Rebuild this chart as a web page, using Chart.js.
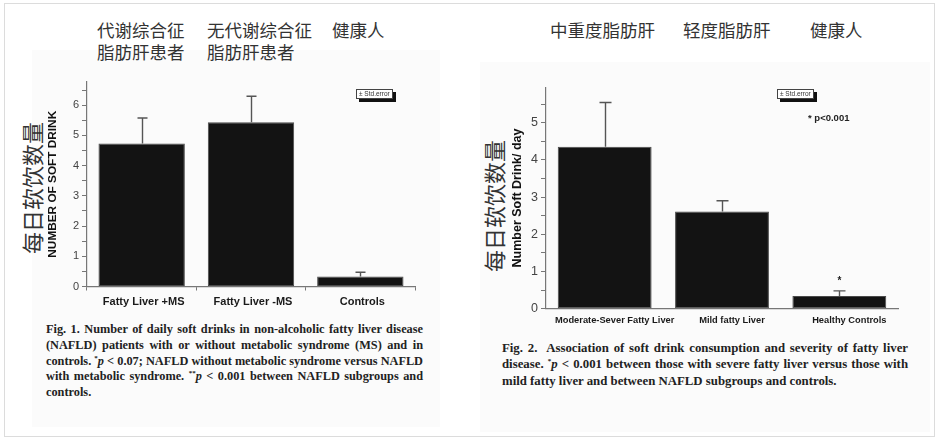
<!DOCTYPE html>
<html><head><meta charset="utf-8">
<script src="https://cdn.jsdelivr.net/npm/chart.js@4"></script>
<style>
html,body{margin:0;padding:0;background:#fff;}
body{width:939px;height:441px;position:relative;overflow:hidden;font-family:"Liberation Sans",Arial,sans-serif;}
.frame{position:absolute;left:4px;top:3px;width:929px;height:432px;border:1px solid #dcdcdc;}
.paper{position:absolute;background:#fbfbfb;}
.cjk{position:absolute;font-family:"Noto Sans CJK SC",sans-serif;color:#333;white-space:nowrap;}
.hdr{font-size:17.5px;line-height:22px;}
.rot{font-size:22px;line-height:1;transform:translate(-50%,-50%) rotate(-90deg);}
canvas{position:absolute;}
.se{position:absolute;background:#fff;border:1px solid #444;box-shadow:3px 3px 0 #111;font-size:6.5px;line-height:8px;color:#333;padding:0 2px;white-space:nowrap;}
.note{position:absolute;font-weight:bold;font-size:9.5px;color:#222;white-space:nowrap;}
.cap{position:absolute;font-family:"Liberation Serif","Times New Roman",serif;font-weight:bold;color:#222;}
.cap div{text-align:justify;text-align-last:justify;white-space:nowrap;}
.cap div.last{text-align-last:left;}
.sup{font-size:7px;line-height:0;position:relative;top:-5px;}
</style></head>
<body>
<div class="frame"></div>
<div class="paper" style="left:32px;top:50px;width:408px;height:377px;"></div>
<div class="paper" style="left:480px;top:62px;width:450px;height:370px;"></div>

<div class="cjk hdr" style="left:97px;top:19px;">代谢综合征<br>脂肪肝患者</div>
<div class="cjk hdr" style="left:207px;top:19px;">无代谢综合征<br>脂肪肝患者</div>
<div class="cjk hdr" style="left:332px;top:19px;">健康人</div>

<div class="cjk hdr" style="left:550px;top:19px;">中重度脂肪肝</div>
<div class="cjk hdr" style="left:683px;top:19px;">轻度脂肪肝</div>
<div class="cjk hdr" style="left:810px;top:19px;">健康人</div>

<div class="cjk rot" style="left:31px;top:188px;">每日软饮数量</div>
<div class="cjk rot" style="left:493px;top:206px;">每日软饮数量</div>

<canvas id="c1" width="470" height="260" style="left:0;top:60px;"></canvas>
<canvas id="c2" width="469" height="280" style="left:470px;top:60px;"></canvas>

<div class="se" style="left:356px;top:89px;">± Std.error</div>
<div class="se" style="left:777px;top:89px;">± Std.error</div>
<div class="note" style="left:808px;top:112px;">* p&lt;0.001</div>

<div class="cap" style="left:46px;top:322px;width:377px;font-size:12.3px;line-height:15.8px;">
<div>Fig. 1. Number of daily soft drinks in non-alcoholic fatty liver disease</div>
<div>(NAFLD) patients with or without metabolic syndrome (MS) and in</div>
<div>controls. <span class="sup">*</span><i>p</i> &lt; 0.07; NAFLD without metabolic syndrome versus NAFLD</div>
<div>with metabolic syndrome. <span class="sup">**</span><i>p</i> &lt; 0.001 between NAFLD subgroups and</div>
<div class="last">controls.</div>
</div>

<div class="cap" style="left:502px;top:340px;width:406px;font-size:12.8px;line-height:16.3px;">
<div>Fig. 2.&nbsp; Association of soft drink consumption and severity of fatty liver</div>
<div>disease. <span class="sup">*</span><i>p</i> &lt; 0.001 between those with severe fatty liver versus those with</div>
<div class="last">mild fatty liver and between NAFLD subgroups and controls.</div>
</div>

<script>
// ---- data ----
const leftCategories = ['Fatty Liver +MS', 'Fatty Liver -MS', 'Controls'];
const leftMeans = [4.73, 5.44, 0.33];
const leftErrors = [0.85, 0.86, 0.14];
const leftMarks = ['', '', ''];
const leftAxisTitle = 'NUMBER OF SOFT DRINK';

const rightCategories = ['Moderate-Sever Fatty Liver', 'Mild fatty Liver', 'Healthy Controls'];
const rightMeans = [4.35, 2.61, 0.34];
const rightErrors = [1.19, 0.29, 0.14];
const rightMarks = ['', '', '*'];
const rightAxisTitle = 'Number Soft Drink/ day';

const FONT = '"Liberation Sans", Arial, sans-serif';

function errorPlugin(errors, marks, capW) {
  return {
    id: 'errbars',
    afterDatasetsDraw(chart) {
      const ctx = chart.ctx;
      const meta = chart.getDatasetMeta(0);
      const ys = chart.scales.y;
      const vals = chart.data.datasets[0].data;
      ctx.save();
      ctx.strokeStyle = '#555';
      ctx.lineWidth = 1.4;
      meta.data.forEach((bar, i) => {
        const x = Math.round(bar.x) + 0.5;
        const yb = ys.getPixelForValue(vals[i]);
        const yt = ys.getPixelForValue(vals[i] + errors[i]);
        ctx.beginPath();
        ctx.moveTo(x, yb);
        ctx.lineTo(x, yt);
        ctx.moveTo(x - capW / 2, yt);
        ctx.lineTo(x + capW / 2, yt);
        ctx.stroke();
        if (marks[i]) {
          ctx.fillStyle = '#222';
          ctx.font = 'bold 10px ' + FONT;
          ctx.textAlign = 'center';
          ctx.textBaseline = 'middle';
          ctx.fillText(marks[i], x, yt - 10);
        }
      });
      ctx.restore();
    }
  };
}

function makeChart(id, cfg) {
  return new Chart(document.getElementById(id), {
    type: 'bar',
    data: {
      labels: cfg.labels,
      datasets: [{
        data: cfg.values,
        backgroundColor: '#131313',
        borderColor: '#4a4a4a',
        borderWidth: 1,
        borderSkipped: false,
        categoryPercentage: 1,
        barPercentage: cfg.barPct
      }]
    },
    options: {
      responsive: false,
      animation: false,
      devicePixelRatio: 1,
      layout: { padding: { left: cfg.padL, right: cfg.padR, top: cfg.padT, bottom: 0 } },
      plugins: { legend: { display: false }, tooltip: { enabled: false } },
      scales: {
        x: {
          afterFit(s) { s.height = cfg.xH; },
          grid: cfg.xTicks
            ? { offset: true, drawOnChartArea: false, drawTicks: true, tickLength: 4, color: '#777', tickColor: '#777' }
            : { display: false, drawOnChartArea: false, drawTicks: false },
          border: { display: true, color: '#777', width: 1.2 },
          ticks: {
            color: '#1a1a1a',
            font: { family: FONT, size: cfg.xFont, weight: 'bold' },
            padding: cfg.xPad,
            labelOffset: cfg.labelOffset,
            maxRotation: 0,
            autoSkip: false
          }
        },
        y: {
          min: 0,
          max: cfg.max,
          afterFit(s) { s.width = cfg.yW; },
          grid: { drawOnChartArea: false, drawTicks: true, tickLength: 5, tickColor: '#777', tickWidth: 1 },
          border: { display: true, color: '#777', width: 1.2 },
          ticks: {
            stepSize: 0.5,
            includeBounds: false,
            autoSkip: false,
            color: '#444',
            padding: 3,
            font: { family: FONT, size: cfg.yFont },
            callback: v => Number.isInteger(v) ? String(v) : ''
          },
          title: {
            display: true,
            text: cfg.title,
            color: '#111',
            padding: { top: 0, bottom: 0 },
            font: { family: FONT, size: cfg.titleFont, weight: 'bold' }
          }
        }
      }
    },
    plugins: [errorPlugin(cfg.errors, cfg.marks, cfg.capW)]
  });
}

makeChart('c1', {
  labels: leftCategories, values: leftMeans, errors: leftErrors, marks: leftMarks,
  title: leftAxisTitle, titleFont: 11.8, yFont: 11, xFont: 11, xPad: 5, labelOffset: 2,
  max: 6.77, barPct: 0.79, capW: 10, xTicks: true,
  padL: 46, yW: 41, padR: 55, padT: 22, xH: 33.5
});

makeChart('c2', {
  labels: rightCategories, values: rightMeans, errors: rightErrors, marks: rightMarks,
  title: rightAxisTitle, titleFont: 12.5, yFont: 12.5, xFont: 9.3, xPad: 6, labelOffset: 10,
  max: 5.95, barPct: 0.8, capW: 12, xTicks: false,
  padL: 40.5, yW: 35.5, padR: 41, padT: 27.3, xH: 31.3
});
</script>
</body></html>
